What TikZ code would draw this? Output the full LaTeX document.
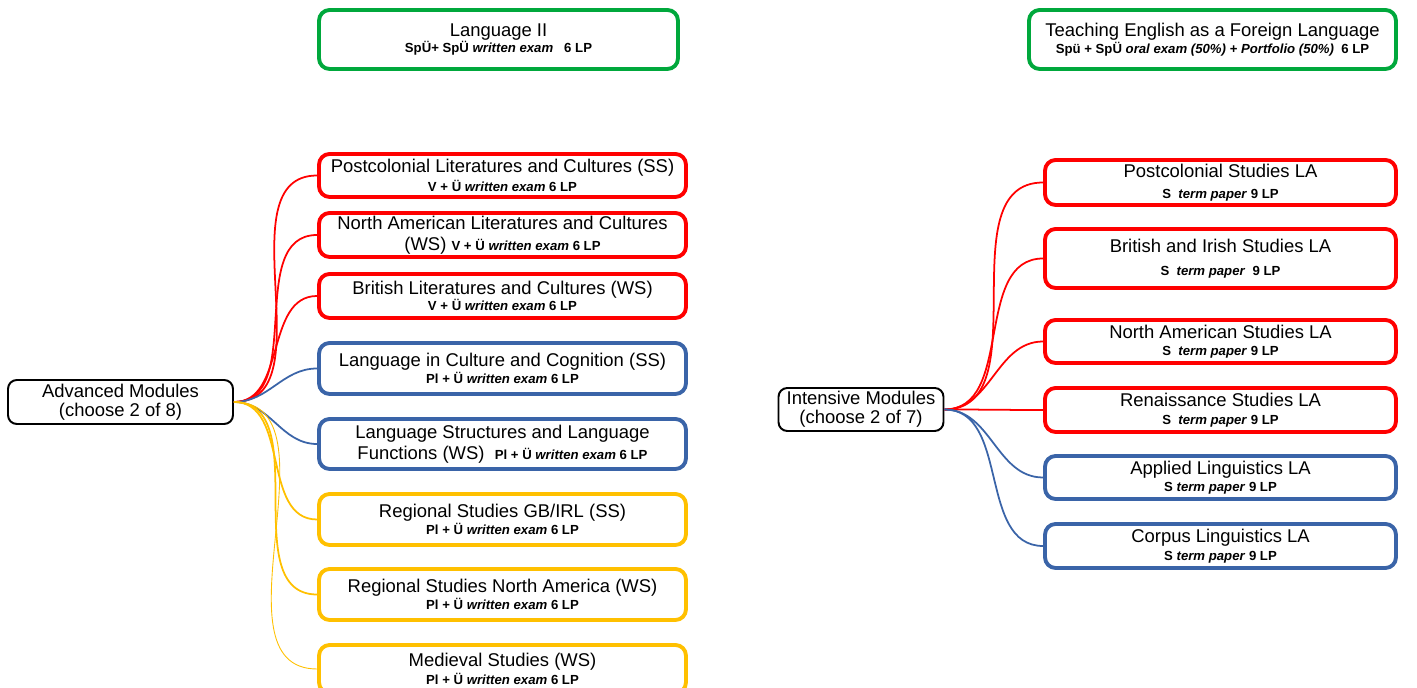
\documentclass[tikz,border=0pt]{standalone}
\usepackage{fontspec}
\setmainfont{Liberation Sans}
\definecolor{modred}{HTML}{FF0000}
\definecolor{modblue}{HTML}{3A64A8}
\definecolor{modyellow}{HTML}{FFC000}
\definecolor{modgreen}{HTML}{00A83C}
\newcommand{\crd}[1]{{\fontsize{7.5}{9}\selectfont\bfseries #1}}

\begin{document}
\begin{tikzpicture}[x=0.02cm,y=-0.02cm,
    font=\fontsize{10.5}{12}\selectfont,
    mod/.style={draw=#1, fill=white, line width=2.2pt, rounded corners=6pt,
      minimum width=7.34cm, align=center, inner sep=1pt},
    hub/.style={draw, fill=white, line width=1.1pt, rounded corners=5pt,
      align=center, inner sep=1pt},
    link/.style={draw=#1, line width=1pt}]
    \useasboundingbox (0,0) rectangle (1417,688);
    % top row
    \node[mod=modgreen, minimum width=7.18cm, minimum height=1.18cm] (lang2) at (498.5,39.5)
      {Language II\\[-2.5pt]\crd{SpÜ+ SpÜ \textit{written exam}~~~6 LP}};
    \node[mod=modgreen, minimum height=1.18cm] (tefl) at (1212.5,39.5)
      {Teaching English as a Foreign Language\\[-2pt]\crd{Spü + SpÜ \textit{oral exam (50\%) + Portfolio (50\%)}~~6 LP}};
    % advanced modules
    \node[hub, minimum width=4.5cm, minimum height=0.88cm] (adv) at (120.5,402)
      {Advanced Modules\\[-1pt](choose 2 of 8)};
    \node[mod=modred, minimum height=0.86cm] (pcl) at (502.5,175.5)
      {Postcolonial Literatures and Cultures (SS)\\[-1.5pt]\crd{V + Ü \textit{written exam} 6 LP}};
    \node[mod=modred, minimum height=0.88cm] (nal) at (502.5,235)
      {North American Literatures and Cultures\\(WS) \crd{V + Ü \textit{written exam} 6 LP}};
    \node[mod=modred, minimum height=0.88cm] (bl) at (502.5,296)
      {British Literatures and Cultures (WS)\\[-2.5pt]\crd{V + Ü \textit{written exam} 6 LP}};
    \node[mod=modblue, minimum height=1.02cm] (lcc) at (502.5,368.5)
      {Language in Culture and Cognition (SS)\\[-2pt]\crd{Pl + Ü \textit{written exam} 6 LP}};
    \node[mod=modblue, minimum height=1.0cm] (lsf) at (502.5,444)
      {Language Structures and Language\\Functions (WS)~~\crd{Pl + Ü \textit{written exam} 6 LP}};
    \node[mod=modyellow, minimum height=1.02cm] (rgb) at (502.5,519.5)
      {Regional Studies GB/IRL (SS)\\[-2pt]\crd{Pl + Ü \textit{written exam} 6 LP}};
    \node[mod=modyellow, minimum height=1.02cm] (rna) at (502.5,594.5)
      {Regional Studies North America (WS)\\[-2pt]\crd{Pl + Ü \textit{written exam} 6 LP}};
    \node[mod=modyellow, minimum height=0.96cm] (med) at (502.5,669)
      {Medieval Studies (WS)\\[-2pt]\crd{Pl + Ü \textit{written exam} 6 LP}};
    % intensive modules
    \node[hub, minimum width=3.3cm, minimum height=0.86cm] (int) at (861,409.5)
      {Intensive Modules\\[-1pt](choose 2 of 7)};
    \node[mod=modred, minimum width=7.02cm, minimum height=0.9cm] (psla) at (1220.5,182.5)
      {Postcolonial Studies LA\\\crd{S~~\textit{term paper} 9 LP}};
    \node[mod=modred, minimum width=7.02cm, minimum height=1.18cm] (bisla) at (1220.5,258.5)
      {British and Irish Studies LA\\[1pt]\crd{S~~\textit{term paper}~~9 LP}};
    \node[mod=modred, minimum width=7.02cm, minimum height=0.86cm] (nasla) at (1220.5,341.5)
      {North American Studies LA\\[-2pt]\crd{S~~\textit{term paper} 9 LP}};
    \node[mod=modred, minimum width=7.02cm, minimum height=0.88cm] (rsla) at (1220.5,410)
      {Renaissance Studies LA\\[-2pt]\crd{S~~\textit{term paper} 9 LP}};
    \node[mod=modblue, minimum width=7.02cm, minimum height=0.86cm] (alla) at (1220.5,477.5)
      {Applied Linguistics LA\\[-2pt]\crd{S \textit{term paper} 9 LP}};
    \node[mod=modblue, minimum width=7.02cm, minimum height=0.88cm] (clla) at (1220.5,546)
      {Corpus Linguistics LA\\[-2pt]\crd{S \textit{term paper} 9 LP}};
    % connectors
    \foreach \n/\c in {pcl/modred,nal/modred,bl/modred,lcc/modblue,lsf/modblue,rgb/modyellow,rna/modyellow}
      \draw[link=\c] (adv.east) to[out=0,in=180] (\n.west);
    \draw[link=modyellow, line width=0.5pt] (adv.east) to[out=0,in=180] (med.west);
    \foreach \n/\c in {psla/modred,bisla/modred,nasla/modred,rsla/modred,alla/modblue,clla/modblue}
      \draw[link=\c] (int.east) to[out=0,in=180] (\n.west);
\end{tikzpicture}
\end{document}
